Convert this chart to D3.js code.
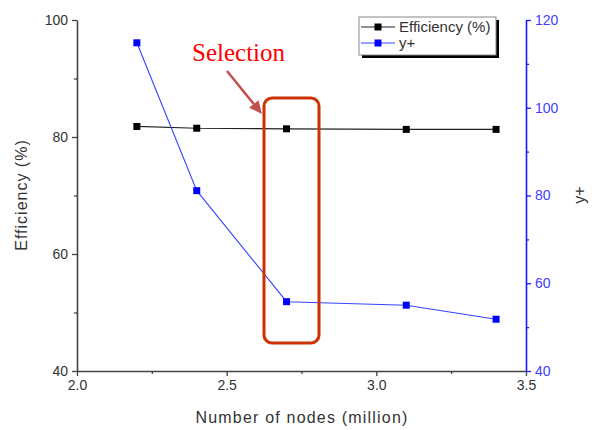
<!DOCTYPE html>
<html>
<head>
<meta charset="utf-8">
<script src="https://cdn.jsdelivr.net/npm/d3@7"></script>
<style>
  html, body { margin: 0; padding: 0; background: #fff; }
  svg { display: block; font-family: "Liberation Sans", Arial, sans-serif; }
</style>
</head>
<body>
<svg id="chart" width="595" height="430"></svg>
<script>
// Mesh size (million nodes)
const nodes = [2.2, 2.4, 2.7, 3.1, 3.4];
// Efficiency (%) on the left axis
const efficiency = [81.8, 81.5, 81.4, 81.3, 81.3];
// y+ on the right axis
const yPlus = [114.8, 81.1, 55.8, 55.0, 51.8];

const xTicks = [2.0, 2.5, 3.0, 3.5];
const leftTicks = [40, 60, 80, 100];
const rightTicks = [40, 60, 80, 100, 120];

const svg = d3.select("#chart");
const plotL = 77, plotR = 526, plotT = 20, plotB = 371;

const x = d3.scaleLinear().domain([2.0, 3.5]).range([plotL, plotR]);
const yL = d3.scaleLinear().domain([40, 100]).range([plotB, plotT]);
const yR = d3.scaleLinear().domain([40, 120]).range([plotB, plotT]);

const axisColor = "#444";
const blue = "#1a1aff";

// Axes
function styleAxis(g, color, fs) {
  g.select(".domain").attr("stroke", color).attr("stroke-width", 1.6);
  g.selectAll(".tick line").attr("stroke", color).attr("stroke-width", 1.3);
  g.selectAll(".tick text").attr("fill", color === axisColor ? "#333" : "#4040ff")
    .attr("font-size", fs).attr("font-family", "Liberation Sans, Arial, sans-serif");
}

// minor ticks
const gxMinor = svg.append("g").attr("transform", `translate(0,${plotB})`)
  .call(d3.axisBottom(x).tickValues([2.25, 2.75, 3.25]).tickSize(3).tickFormat(""));
gxMinor.select(".domain").remove();
gxMinor.selectAll("line").attr("stroke", axisColor).attr("stroke-width", 1.3);

const gyMinor = svg.append("g").attr("transform", `translate(${plotL},0)`)
  .call(d3.axisLeft(yL).tickValues([50, 70, 90]).tickSize(3).tickFormat(""));
gyMinor.select(".domain").remove();
gyMinor.selectAll("line").attr("stroke", axisColor).attr("stroke-width", 1.3);

const grMinor = svg.append("g").attr("transform", `translate(${plotR},0)`)
  .call(d3.axisRight(yR).tickValues([50, 70, 90, 110]).tickSize(3).tickFormat(""));
grMinor.select(".domain").remove();
grMinor.selectAll("line").attr("stroke", blue).attr("stroke-width", 1.3);

const gx = svg.append("g").attr("transform", `translate(0,${plotB})`)
  .call(d3.axisBottom(x).tickValues(xTicks).tickSize(5).tickSizeOuter(0).tickPadding(4).tickFormat(d3.format(".1f")));
styleAxis(gx, axisColor, 14);

const gy = svg.append("g").attr("transform", `translate(${plotL},0)`)
  .call(d3.axisLeft(yL).tickValues(leftTicks).tickSize(5).tickSizeOuter(0).tickPadding(4));
styleAxis(gy, axisColor, 14);

const gr = svg.append("g").attr("transform", `translate(${plotR},0)`)
  .call(d3.axisRight(yR).tickValues(rightTicks).tickSize(5).tickSizeOuter(0).tickPadding(4));
styleAxis(gr, blue, 14);

// Axis titles
svg.append("text").attr("x", 302).attr("y", 423).attr("text-anchor", "middle")
  .attr("font-size", 16).attr("letter-spacing", 1.2).attr("fill", "#333").text("Number of nodes (million)");
svg.append("text").attr("transform", "translate(27,195) rotate(-90)").attr("text-anchor", "middle")
  .attr("font-size", 16).attr("letter-spacing", 1).attr("fill", "#333").text("Efficiency (%)");
svg.append("text").attr("transform", "translate(585,195) rotate(-90)").attr("text-anchor", "middle")
  .attr("font-size", 16).attr("fill", "#333").text("y+");

// Series
const effData = nodes.map((n, i) => [n, efficiency[i]]);
const ypData = nodes.map((n, i) => [n, yPlus[i]]);

svg.append("path").datum(effData)
  .attr("fill", "none").attr("stroke", "#222").attr("stroke-width", 1.2)
  .attr("d", d3.line().x(d => x(d[0])).y(d => yL(d[1])));
svg.append("path").datum(ypData)
  .attr("fill", "none").attr("stroke", "#3344ff").attr("stroke-width", 1.1)
  .attr("d", d3.line().x(d => x(d[0])).y(d => yR(d[1])));

const ms = 7;
svg.selectAll("rect.eff").data(effData).enter().append("rect")
  .attr("x", d => x(d[0]) - ms / 2).attr("y", d => yL(d[1]) - ms / 2)
  .attr("width", ms).attr("height", ms).attr("fill", "#000");
svg.selectAll("rect.yp").data(ypData).enter().append("rect")
  .attr("x", d => x(d[0]) - ms / 2).attr("y", d => yR(d[1]) - ms / 2)
  .attr("width", ms).attr("height", ms).attr("fill", "#0000ff");

// Legend
const lg = svg.append("g");
lg.append("rect").attr("x", 362).attr("y", 20).attr("width", 137).attr("height", 38).attr("fill", "#000");
lg.append("rect").attr("x", 359).attr("y", 17).attr("width", 137).attr("height", 38)
  .attr("fill", "#fff").attr("stroke", "#888").attr("stroke-width", 1);
const legendItems = [
  { label: "Efficiency (%)", line: "#222", mark: "#000", y: 27 },
  { label: "y+", line: "#3344ff", mark: "#0000ff", y: 43 }
];
legendItems.forEach(it => {
  lg.append("line").attr("x1", 361).attr("x2", 395).attr("y1", it.y).attr("y2", it.y)
    .attr("stroke", it.line).attr("stroke-width", 1.2);
  lg.append("rect").attr("x", 378 - 3.5).attr("y", it.y - 3.5).attr("width", 7).attr("height", 7).attr("fill", it.mark);
  lg.append("text").attr("x", 399).attr("y", it.y + 5).attr("font-size", 15).attr("fill", "#333").text(it.label);
});

// Highlight box around the 2.7M mesh
svg.append("rect").attr("x", 264).attr("y", 98).attr("width", 55).attr("height", 245)
  .attr("rx", 8).attr("ry", 8).attr("fill", "none").attr("stroke", "#cc3300").attr("stroke-width", 3);

// Annotation text and arrow
svg.append("text").attr("x", 192).attr("y", 61)
  .attr("font-family", "Liberation Serif, Times New Roman, serif").attr("font-size", 25)
  .attr("fill", "#ff0000").text("Selection");

const ax0 = 227, ay0 = 71, ax1 = 262, ay1 = 114;
const ang = Math.atan2(ay1 - ay0, ax1 - ax0);
const hl = 13, hw = 6;
const bx = ax1 - hl * Math.cos(ang), by = ay1 - hl * Math.sin(ang);
svg.append("line").attr("x1", ax0).attr("y1", ay0).attr("x2", bx).attr("y2", by)
  .attr("stroke", "#c0504d").attr("stroke-width", 2.5);
svg.append("path")
  .attr("d", `M${ax1},${ay1} L${bx + hw * Math.sin(ang)},${by - hw * Math.cos(ang)} L${bx - hw * Math.sin(ang)},${by + hw * Math.cos(ang)} Z`)
  .attr("fill", "#c0504d");
</script>
</body>
</html>
